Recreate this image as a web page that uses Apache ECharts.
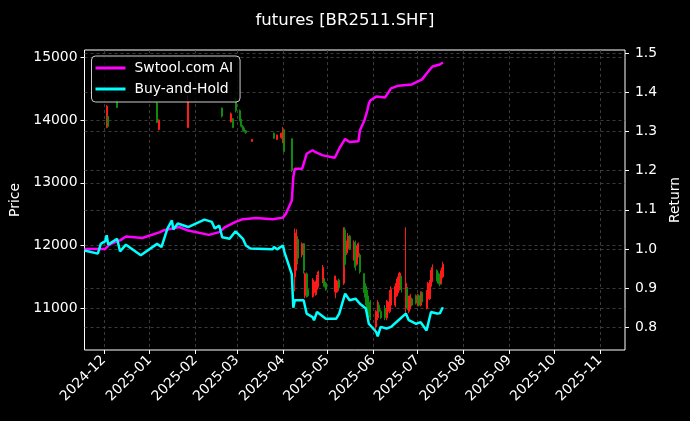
<!DOCTYPE html>
<html><head><meta charset="utf-8">
<script src="https://cdn.jsdelivr.net/npm/echarts@6/dist/echarts.min.js"></script>
<style>html,body{margin:0;padding:0;background:#000;}#c{width:690px;height:421px;}</style>
</head><body><div id="c"></div>
<script>
// ---- data ----
const candleDates = ['2024-12-03','2024-12-04','2024-12-10','2025-01-06','2025-01-07','2025-01-27','2025-02-19','2025-02-25','2025-02-26','2025-02-28','2025-03-03','2025-03-04','2025-03-05','2025-03-06','2025-03-07','2025-03-11','2025-03-26','2025-03-28','2025-03-31','2025-04-01','2025-04-02','2025-04-07',
'2025-04-09','2025-04-10','2025-04-11','2025-04-14','2025-04-15','2025-04-16','2025-04-17','2025-04-18','2025-04-21','2025-04-22','2025-04-23','2025-04-24','2025-04-25','2025-04-28','2025-04-29','2025-04-30',
'2025-05-06','2025-05-07','2025-05-08','2025-05-09','2025-05-12','2025-05-13','2025-05-14','2025-05-15','2025-05-16','2025-05-19','2025-05-20','2025-05-21','2025-05-22','2025-05-23','2025-05-26','2025-05-27','2025-05-28','2025-05-29','2025-05-30',
'2025-06-03','2025-06-04','2025-06-05','2025-06-06','2025-06-09','2025-06-10','2025-06-11','2025-06-12','2025-06-13','2025-06-16','2025-06-17','2025-06-18','2025-06-19','2025-06-20','2025-06-23','2025-06-24','2025-06-25','2025-06-26','2025-06-27','2025-06-30',
'2025-07-01','2025-07-02','2025-07-03','2025-07-04','2025-07-07','2025-07-08','2025-07-09','2025-07-10','2025-07-11','2025-07-14','2025-07-15','2025-07-16','2025-07-17','2025-07-18'];
const candleOpen = [13880,14060,14300,14270,13850,13880,14190,13970,14020,14330,14150,14000,13900,13860,13830,13660,13790,13690,13720,13700,13840,13700,
11500,11750,12100,11850,12030,11200,11550,11300,11200,11250,11220,11300,11350,11420,11450,11400,
11280,11250,11280,11450,11400,12250,11880,11950,12150,11770,12050,11700,11830,11850,11550,11350,11250,11100,11050,
10700,10850,11050,10950,11000,10850,10950,10950,11050,11050,11200,11250,11300,11500,11000,11320,10950,11000,11150,11200,
11050,11200,11050,11250,11000,11150,11150,11350,11450,11600,11550,11500,11400,11500];
const candleClose = [14220,13900,14200,13960,14000,14300,14060,14100,13880,14150,14000,13900,13850,13820,13800,13690,13710,13760,13790,13850,13500,13200,
12200,12200,11800,12030,11600,11550,11200,11200,11450,11420,11420,11500,11580,11650,11350,11300,
11500,11450,11420,11330,12200,11700,12050,12150,11950,12050,11650,11950,12030,11580,11250,11100,10950,10900,10850,
10950,11080,10950,10850,10850,11050,11100,11250,11300,11350,11450,11500,11560,11300,11400,11000,11150,11200,11050,11080,
11200,11050,11250,11100,11250,11400,11430,11600,11650,11450,11400,11380,11600,11700];
const candleLow = [13870,13887,14190,13950,13835,13870,14040,13960,13870,14120,13980,13880,13830,13800,13780,13650,13700,13680,13700,13630,13490,13170,
11270,11600,11700,11810,11550,11160,11170,11180,11170,11180,11200,11280,11330,11400,11330,11280,
11255,11160,11255,11300,11370,11650,11850,11920,11930,11760,11600,11680,11810,11550,11170,11050,10920,10860,10810,
10650,10810,10900,10830,10810,10810,10930,10920,11000,11020,11180,11240,11280,11250,10920,10970,10920,10980,11030,11060,
11030,11030,11030,11080,10980,11130,11130,11330,11420,11430,11380,11350,11380,11480];
const candleHigh = [14240,14078,14318,14290,14010,14400,14200,14120,14030,14350,14170,14020,13920,13880,13840,13700,13800,13770,13800,13890,13850,13710,
12270,12260,12150,12050,12040,11570,11570,11350,11480,11450,11440,11530,11600,11690,11480,11420,
11520,11520,11440,11470,12290,12290,12080,12200,12170,12080,12080,12000,12050,11880,11560,11400,11290,11200,11130,
10970,11130,11100,10980,11050,11130,11120,11290,11350,11400,11470,11560,11580,11520,12290,11340,11200,11230,11170,11220,
11230,11220,11270,11270,11290,11420,11450,11610,11700,11620,11570,11550,11650,11740];

const aiDates = ['2024-11-18','2024-12-02','2024-12-05','2024-12-12','2024-12-16','2024-12-27','2025-01-08','2025-01-10','2025-01-21','2025-01-27','2025-02-10','2025-02-17','2025-02-21','2025-02-28','2025-03-05','2025-03-14','2025-03-25','2025-04-01','2025-04-03','2025-04-07','2025-04-08','2025-04-09','2025-04-14','2025-04-16','2025-04-17','2025-04-21','2025-04-23','2025-04-28','2025-05-06','2025-05-09','2025-05-13','2025-05-16','2025-05-22','2025-05-23','2025-05-26','2025-05-28','2025-05-29','2025-05-30','2025-06-03','2025-06-09','2025-06-13','2025-06-18','2025-06-27','2025-07-04','2025-07-07','2025-07-11','2025-07-16','2025-07-18'];
const aiValues = [1.000,1.000,1.012,1.022,1.032,1.028,1.043,1.047,1.056,1.047,1.036,1.043,1.056,1.069,1.076,1.079,1.076,1.080,1.090,1.124,1.183,1.205,1.205,1.230,1.243,1.252,1.247,1.239,1.233,1.256,1.281,1.273,1.275,1.303,1.328,1.354,1.371,1.379,1.389,1.387,1.410,1.417,1.420,1.433,1.448,1.466,1.471,1.476];

const bhDates = ['2024-11-18','2024-11-27','2024-11-29','2024-12-02','2024-12-03','2024-12-04','2024-12-10','2024-12-12','2024-12-16','2024-12-26','2025-01-06','2025-01-09','2025-01-13','2025-01-16','2025-01-17','2025-01-20','2025-01-27','2025-02-07','2025-02-12','2025-02-14','2025-02-17','2025-02-19','2025-02-24','2025-02-28','2025-03-05','2025-03-07','2025-03-10','2025-03-25','2025-03-26','2025-03-28','2025-04-01','2025-04-02','2025-04-07','2025-04-08','2025-04-09','2025-04-15','2025-04-17','2025-04-21','2025-04-22','2025-04-24','2025-04-25','2025-04-30','2025-05-07','2025-05-09','2025-05-13','2025-05-16','2025-05-20','2025-05-23','2025-05-27','2025-05-29','2025-06-03','2025-06-04','2025-06-06','2025-06-10','2025-06-13','2025-06-18','2025-06-23','2025-06-25','2025-06-30','2025-07-03','2025-07-07','2025-07-10','2025-07-14','2025-07-16','2025-07-18'];
const bhValues = [0.996,0.988,1.013,1.020,1.035,1.011,1.026,0.994,1.011,0.984,1.013,1.005,1.052,1.073,1.050,1.065,1.056,1.075,1.069,1.052,1.060,1.030,1.026,1.045,1.026,1.009,1.001,0.999,1.005,0.999,1.009,0.992,0.935,0.850,0.869,0.869,0.835,0.826,0.818,0.839,0.839,0.822,0.822,0.835,0.886,0.869,0.873,0.860,0.848,0.809,0.788,0.777,0.801,0.797,0.801,0.818,0.835,0.818,0.809,0.813,0.792,0.839,0.835,0.836,0.851];

const monthTicks = ['2024-12-01','2025-01-01','2025-02-01','2025-03-01','2025-04-01','2025-05-01','2025-06-01','2025-07-01','2025-08-01','2025-09-01','2025-10-01','2025-11-01'];
const priceTicks = [11000,12000,13000,14000,15000];
const returnTicks = [0.8,0.9,1.0,1.1,1.2,1.3,1.4,1.5];

// ---- build ----
function ts(s){const p=s.split('-');return Date.UTC(+p[0],+p[1]-1,+p[2]);}
const candleData = candleDates.map((d,i)=>[ts(d),candleOpen[i],candleClose[i],candleLow[i],candleHigh[i]]);
const aiData = aiDates.map((d,i)=>[ts(d),aiValues[i]]);
const bhData = bhDates.map((d,i)=>[ts(d),bhValues[i]]);
const monthTs = monthTicks.map(ts);
const FONT = 'DejaVu Sans';
const grid = '#4a4a4a';
const chart = echarts.init(document.getElementById('c'), null, {renderer:'canvas'});
chart.setOption({
  backgroundColor:'#000',
  animation:false,
  textStyle:{fontFamily:FONT},
  title:{text:'futures [BR2511.SHF]',left:'center',top:7,textStyle:{color:'#fff',fontSize:16.5,fontWeight:'normal',fontFamily:FONT}},
  grid:{left:84.5,right:60.7,top:50,bottom:71,show:true,borderColor:'#fff',borderWidth:1,backgroundColor:'transparent',containLabel:false},
  legend:{data:['Swtool.com AI','Buy-and-Hold'],orient:'vertical',left:91.5,top:56,padding:[4,7,5,4],itemGap:5,itemWidth:30,itemHeight:3,icon:'rect',
    backgroundColor:'rgba(0,0,0,0.8)',borderColor:'#cccccc',borderWidth:1,borderRadius:4,
    textStyle:{color:'#fff',fontSize:13.9,fontFamily:FONT,lineHeight:16,padding:[0,0,0,4]}},
  xAxis:{type:'value',min:ts('2024-11-18'),max:ts('2025-11-18'),scale:true,
    axisLine:{show:false},
    axisTick:{show:true,length:4,lineStyle:{color:'#fff'},customValues:monthTs},
    axisLabel:{customValues:monthTs,rotate:45,color:'#fff',fontSize:13.9,fontFamily:FONT,margin:8,
      formatter:function(v){const d=new Date(v);return d.getUTCFullYear()+'-'+String(d.getUTCMonth()+1).padStart(2,'0');}},
    splitLine:{show:true,lineStyle:{color:grid,type:[3,3],width:0.8}}},
  yAxis:[
    {type:'value',position:'left',min:10335,max:15116,name:'Price',nameLocation:'middle',nameGap:56,nameRotate:90,
      nameTextStyle:{color:'#fff',fontSize:13.9,fontFamily:FONT},
      axisLine:{show:false},
      axisTick:{show:true,length:4,lineStyle:{color:'#fff'},customValues:priceTicks},
      axisLabel:{customValues:priceTicks,color:'#fff',fontSize:13.9,fontFamily:FONT,margin:7,formatter:function(v){return String(Math.round(v));}},
      splitLine:{show:true,lineStyle:{color:grid,type:[3,3],width:0.8}}},
    {type:'value',position:'right',min:0.742,max:1.508,name:'Return',nameLocation:'middle',nameGap:34,nameRotate:90,
      nameTextStyle:{color:'#fff',fontSize:13.9,fontFamily:FONT},
      axisLine:{show:false},
      axisTick:{show:true,length:4,lineStyle:{color:'#fff'},customValues:returnTicks},
      axisLabel:{customValues:returnTicks,color:'#fff',fontSize:13.9,fontFamily:FONT,margin:10,formatter:function(v){return Number(v).toFixed(1);}},
      splitLine:{show:true,lineStyle:{color:grid,type:[3,3],width:0.8}}}
  ],
  series:[
    {type:'candlestick',name:'Price',xAxisIndex:0,yAxisIndex:0,data:candleData,encode:{x:0,y:[1,2,3,4]},barWidth:1.5,z:2,
      itemStyle:{color:'#ff1a1a',color0:'#0f8a0f',borderColor:'#ff1a1a',borderColor0:'#0f8a0f',borderWidth:1}},
    {type:'line',name:'Swtool.com AI',yAxisIndex:1,data:aiData,showSymbol:false,symbol:'none',color:'#ff00ff',lineStyle:{width:2.5,color:'#ff00ff'},z:5},
    {type:'line',name:'Buy-and-Hold',yAxisIndex:1,data:bhData,showSymbol:false,symbol:'none',color:'#00ffff',lineStyle:{width:2.5,color:'#00ffff'},z:6}
  ]
});
</script></body></html>
